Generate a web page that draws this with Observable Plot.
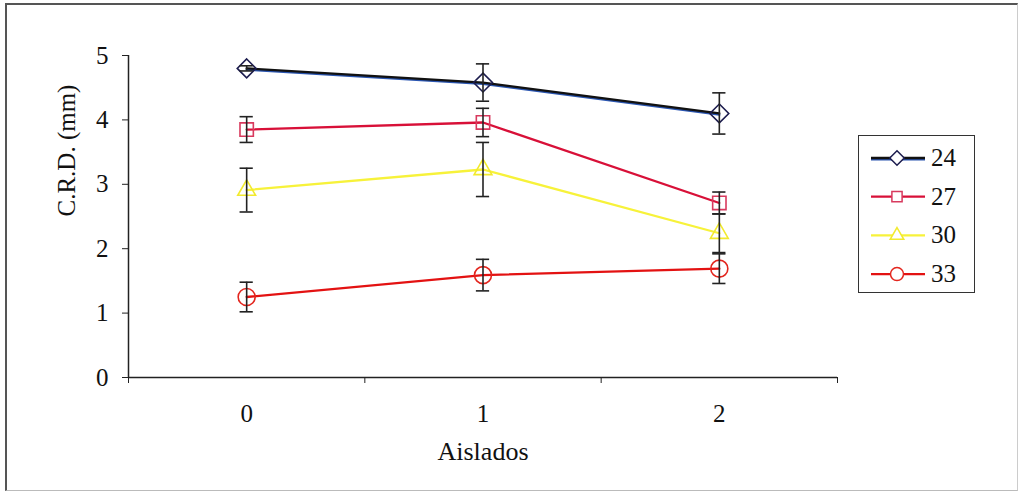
<!DOCTYPE html>
<html>
<head>
<meta charset="utf-8">
<script src="https://cdn.jsdelivr.net/npm/d3@7"></script>
<script src="https://cdn.jsdelivr.net/npm/@observablehq/plot@0.6"></script>
<style>
  html, body { margin: 0; padding: 0; background: #fff; }
  #wrap { position: relative; width: 1021px; height: 494px; overflow: hidden; font-family: 'Liberation Serif', serif; }
  #frame { position: absolute; left: 5px; top: 3px; width: 1013px; height: 488px; border-top: 2px solid #555; border-left: 2px solid #555; border-right: 1px solid #ccc; border-bottom: 1px solid #bbb; box-sizing: border-box; }
  #chart { position: absolute; left: 0; top: 0; }
  #chart svg text { font-family: 'Liberation Serif', serif !important; }
  #legend { position: absolute; left: 858px; top: 135px; width: 117px; height: 158px; border: 1.5px solid #333; box-sizing: border-box; background: #fff; }
  #legend svg { position: absolute; left: 0; top: 0; }
  #legend .lab { position: absolute; left: 72px; font-family: 'Liberation Serif', serif; font-size: 25px; line-height: 25px; color: #111; }
</style>
</head>
<body>
<div id="wrap">
  <div id="frame"></div>
  <div id="chart"></div>
  <div id="legend"></div>
</div>
<script>
// ---- data ----
const categories = [0, 1, 2];                 // Aislados
const categoryLabels = ["0", "1", "2"];
const seriesNames = ["24", "27", "30", "33"];
const means24 = [4.80, 4.58, 4.10];
const err24   = [0.04, 0.29, 0.32];
const means27 = [3.85, 3.96, 2.71];
const err27   = [0.20, 0.22, 0.17];
const means30 = [2.91, 3.23, 2.24];
const err30   = [0.34, 0.42, 0.30];
const means33 = [1.25, 1.59, 1.69];
const err33   = [0.23, 0.245, 0.23];
const yTicks = [0, 1, 2, 3, 4, 5];
const yTickLabels = ["0", "1", "2", "3", "4", "5"];
const xLabel = "Aislados";
const yLabel = "C.R.D. (mm)";

// ---- styles ----
const lineColors   = ["#111111", "#d81038", "#f7f23a", "#e31212"];
const markerColors = ["#1c1c4e", "#d83a5e", "#f2ea2e", "#e3261e"];
const symbols = ["diamond2", "square2", "triangle2", "circle"];
const FONT = "'Liberation Serif', serif";

const meansAll = [means24, means27, means30, means33];
const errsAll = [err24, err27, err30, err33];
const rows = [];
seriesNames.forEach((s, i) => {
  categories.forEach((c, j) => {
    rows.push({series: s, x: c, y: meansAll[i][j], e: errsAll[i][j]});
  });
});
const bounds = [-0.5, 0.5, 1.5, 2.5];
const capHalf = 0.028;

const chart = Plot.plot({
  width: 1021,
  height: 494,
  marginLeft: 128,
  marginRight: 184,
  marginTop: 55,
  marginBottom: 117,
  style: {fontFamily: FONT, fontSize: "25px", color: "#111", background: "transparent"},
  x: {type: "linear", domain: [-0.5, 2.5], axis: null},
  y: {domain: [0, 5], axis: null},
  color: {domain: seriesNames, range: lineColors},
  symbol: {domain: seriesNames, range: symbols},
  marks: [
    // axes
    Plot.axisY({ticks: yTicks, tickSize: 6, tickPadding: 14, tickFormat: (d, i) => yTickLabels[i], fontSize: 25, label: null, stroke: "#222"}),
    Plot.axisX({ticks: bounds, tickSize: 6, tickFormat: () => "", label: null, stroke: "#222"}),
    Plot.axisX({ticks: categories, tickSize: 0, tickPadding: 27, tickFormat: (d, i) => categoryLabels[i], fontSize: 25, label: null}),
    Plot.ruleX([-0.5], {y1: 0, y2: 5, stroke: "#222", strokeWidth: 1.5}),
    Plot.ruleY([0], {x1: -0.5, x2: 2.5, stroke: "#222", strokeWidth: 1.5}),
    Plot.text([xLabel], {frameAnchor: "bottom", dy: 82, text: d => d, fontSize: 26, fill: "#111"}),
    Plot.text([yLabel], {frameAnchor: "left", dx: -62, rotate: -90, text: d => d, fontSize: 25, fill: "#111"}),
    // blue shadow for series 24
    Plot.line(rows.filter(d => d.series === "24"), {x: "x", y: "y", stroke: "#2a55b0", strokeWidth: 2.2, dy: 1.3}),
    // lines
    Plot.line(rows, {x: "x", y: "y", z: "series", stroke: "series", strokeWidth: 2.3}),
    // markers
    Plot.dot(rows, {x: "x", y: "y", symbol: "series", stroke: d => markerColors[seriesNames.indexOf(d.series)], fill: "none", r: 8.5, strokeWidth: 1.6}),
    // error bars
    Plot.ruleX(rows, {x: "x", y1: d => d.y - d.e, y2: d => d.y + d.e, stroke: "#222", strokeWidth: 1.6}),
    Plot.ruleY(rows, {y: d => d.y + d.e, x1: d => d.x - capHalf, x2: d => d.x + capHalf, stroke: "#222", strokeWidth: 1.6}),
    Plot.ruleY(rows, {y: d => d.y - d.e, x1: d => d.x - capHalf, x2: d => d.x + capHalf, stroke: "#222", strokeWidth: 1.6})
  ]
});
document.getElementById("chart").appendChild(chart);

// ---- legend ----
const legend = d3.select("#legend");
const lg = legend.append("svg").attr("width", 115).attr("height", 155).style("display", "block");
const symMap = {diamond2: d3.symbolDiamond2, square2: d3.symbolSquare2, triangle2: d3.symbolTriangle2, circle: d3.symbolCircle};
seriesNames.forEach((s, i) => {
  const yy = 22 + i * 38.7;
  const g = lg.append("g").attr("transform", `translate(0,${yy})`);
  if (s === "24") g.append("line").attr("x1", 12).attr("x2", 66).attr("y1", 1.3).attr("y2", 1.3).attr("stroke", "#2a55b0").attr("stroke-width", 2.2);
  g.append("line").attr("x1", 12).attr("x2", 66).attr("y1", 0).attr("y2", 0).attr("stroke", lineColors[i]).attr("stroke-width", 2.3);
  g.append("path").attr("transform", "translate(38,0)")
    .attr("d", d3.symbol(symMap[symbols[i]], Math.PI * 6.5 * 6.5)())
    .attr("fill", "white").attr("stroke", markerColors[i]).attr("stroke-width", 1.5);
  legend.append("div").attr("class", "lab").style("top", `${yy - 13}px`).text(s);
});
</script>
</body>
</html>
